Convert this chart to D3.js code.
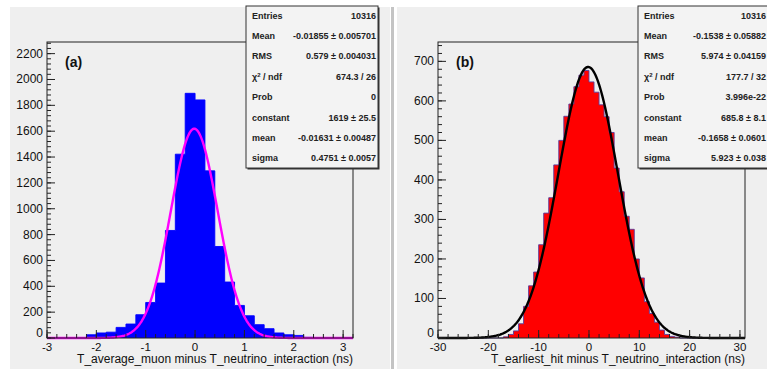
<!DOCTYPE html>
<html>
<head>
<meta charset="utf-8">
<script src="https://cdn.jsdelivr.net/npm/d3@7"></script>
<style>
  body { margin: 0; background: #fff; }
  svg { display: block; font-family: "Liberation Sans", Arial, sans-serif; }
</style>
</head>
<body>
<svg id="chart" width="767" height="369"></svg>
<script>
// panel (a): T_average_muon - T_neutrino_interaction, bins of 0.2 ns from -3
const binStartA = -3;
const binWidthA = 0.2;
const countsA = [0, 1, 2, 4, 25, 39, 45, 82, 108, 180, 275, 425, 832, 1422, 1893,
  1842, 1293, 708, 433, 252, 172, 103, 72, 39, 25, 20, 5, 3, 2, 1, 0];
const fitA = { constant: 1619, mean: -0.01631, sigma: 0.4751 };
const statLabelsA = ["Entries", "Mean", "RMS", "chi2", "Prob", "constant", "mean", "sigma"];
const statValuesA = ["10316", "-0.01855 \u00b1 0.005701", "0.579 \u00b1 0.004031", "674.3 / 26",
  "0", "1619 \u00b1 25.5", "-0.01631 \u00b1 0.00487", "0.4751 \u00b1 0.0057"];

// panel (b): T_earliest_hit - T_neutrino_interaction, bins of 1 ns from -30
const binStartB = -30;
const binWidthB = 1;
const countsB = [0, 0, 0, 0, 0, 0, 0, 0, 0, 0, 0, 0, 0, 3, 9, 18, 36, 80, 132, 167,
  236, 316, 355, 438, 500, 561, 592, 636, 665, 677, 648, 622, 590, 560, 520, 430,
  370, 308, 275, 200, 152, 92, 62, 40, 20, 9, 4, 2, 0, 0, 0, 0, 0, 0, 0, 0, 0, 0, 0, 0, 0];
const fitB = { constant: 685.8, mean: -0.1658, sigma: 5.923 };
const statLabelsB = statLabelsA;
const statValuesB = ["10316", "-0.1538 \u00b1 0.05882", "5.974 \u00b1 0.04159", "177.7 / 32",
  "3.996e-22", "685.8 \u00b1 8.1", "-0.1658 \u00b1 0.0601", "5.923 \u00b1 0.038"];

const svg = d3.select("#chart");

// pad backgrounds
svg.append("rect").attr("x", 10).attr("y", 7).attr("width", 380).attr("height", 362).attr("fill", "#efefef");
svg.append("rect").attr("x", 397).attr("y", 7).attr("width", 370).attr("height", 362).attr("fill", "#efefef");
svg.append("rect").attr("x", 391).attr("y", 7).attr("width", 3).attr("height", 362).attr("fill", "#c4c4c4");

const panels = [
  {
    frame: { x0: 47, x1: 353, y0: 42, y1: 338 },
    xDomain: [-3, 3.2], yMax: 2290,
    counts: countsA, lo: binStartA, w: binWidthA,
    fill: "#0000ff", stroke: "#0000ff", fitColor: "#ff00ff", fit: fitA,
    xMajor: d3.range(-3, 3.01, 1), xMinor: 0.2,
    yMajor: d3.range(0, 2201, 200), yMinor: 40,
    title: "T_average_muon minus T_neutrino_interaction (ns)", tag: "(a)",
    box: { x: 246, w: 132, labelX: 252, valueX: 376 },
    labels: statLabelsA, values: statValuesA
  },
  {
    frame: { x0: 438, x1: 745, y0: 42, y1: 338 },
    xDomain: [-30, 31], yMax: 749,
    counts: countsB, lo: binStartB, w: binWidthB,
    fill: "#ff0000", stroke: "#5a3c9c", fitColor: "#000000", fit: fitB,
    xMajor: d3.range(-30, 30.1, 10), xMinor: 2,
    yMajor: d3.range(0, 701, 100), yMinor: 20,
    title: "T_earliest_hit minus T_neutrino_interaction (ns)", tag: "(b)",
    box: { x: 638, w: 136, labelX: 644, valueX: 766 },
    labels: statLabelsB, values: statValuesB
  }
];

panels.forEach(drawPanel);

function drawPanel(p) {
  const f = p.frame;
  const x = d3.scaleLinear().domain(p.xDomain).range([f.x0, f.x1]);
  const y = d3.scaleLinear().domain([0, p.yMax]).range([f.y1, f.y0]);
  const g = svg.append("g");

  const bins = p.counts.map((c, i) => ({ x0: p.lo + i * p.w, c: c }));
  const pts = bins.map((b) => [b.x0, b.c]);
  pts.push([p.xDomain[1], bins[bins.length - 1].c]);

  // filled histogram as one step area (no seams between bins)
  g.append("path")
    .attr("d", d3.area().x((d) => x(d[0])).y0(y(0)).y1((d) => y(d[1])).curve(d3.curveStepAfter)(pts))
    .attr("fill", p.fill);

  // step outline
  g.append("path")
    .attr("d", d3.line().x((d) => x(d[0])).y((d) => y(d[1])).curve(d3.curveStepAfter)(pts))
    .attr("fill", "none")
    .attr("stroke", p.stroke)
    .attr("stroke-width", 0.9);

  // gaussian fit
  const fx = d3.range(p.xDomain[0], p.xDomain[1] + 1e-9, (p.xDomain[1] - p.xDomain[0]) / 400);
  const gauss = (v) => p.fit.constant * Math.exp(-0.5 * Math.pow((v - p.fit.mean) / p.fit.sigma, 2));
  g.append("path")
    .attr("d", d3.line().x((v) => x(v)).y((v) => y(gauss(v)))(fx))
    .attr("fill", "none")
    .attr("stroke", p.fitColor)
    .attr("stroke-width", 2.4);

  // frame
  g.append("rect")
    .attr("x", f.x0).attr("y", f.y0)
    .attr("width", f.x1 - f.x0).attr("height", f.y1 - f.y0)
    .attr("fill", "none").attr("stroke", "#222").attr("stroke-width", 1);

  // y axis ticks
  const yMinorVals = d3.range(0, p.yMax, p.yMinor);
  g.selectAll(".ymin").data(yMinorVals).join("line")
    .attr("x1", f.x0).attr("x2", f.x0 + 4)
    .attr("y1", (v) => y(v)).attr("y2", (v) => y(v))
    .attr("stroke", "#222").attr("stroke-width", 1);
  g.selectAll(".ymaj").data(p.yMajor).join("line")
    .attr("x1", f.x0).attr("x2", f.x0 + 8)
    .attr("y1", (v) => y(v)).attr("y2", (v) => y(v))
    .attr("stroke", "#222").attr("stroke-width", 1);
  g.selectAll(".ylab").data(p.yMajor).join("text")
    .attr("x", f.x0 - 4).attr("y", (v) => y(v) + (v === 0 ? -1 : 4))
    .attr("text-anchor", "end").attr("font-size", 12).attr("fill", "#111")
    .text((v) => v);

  // x axis ticks
  const xMinorVals = d3.range(p.xDomain[0], p.xDomain[1] + 1e-9, p.xMinor);
  g.selectAll(".xmin").data(xMinorVals).join("line")
    .attr("x1", (v) => x(v)).attr("x2", (v) => x(v))
    .attr("y1", f.y1).attr("y2", f.y1 - 4)
    .attr("stroke", "#222").attr("stroke-width", 1);
  g.selectAll(".xmaj").data(p.xMajor).join("line")
    .attr("x1", (v) => x(v)).attr("x2", (v) => x(v))
    .attr("y1", f.y1).attr("y2", f.y1 - 8)
    .attr("stroke", "#222").attr("stroke-width", 1);
  g.selectAll(".xlab").data(p.xMajor).join("text")
    .attr("x", (v) => x(v)).attr("y", 350.5)
    .attr("text-anchor", "middle").attr("font-size", 11.5).attr("fill", "#111")
    .text((v) => v);

  g.append("text")
    .attr("x", f.x1).attr("y", 363)
    .attr("text-anchor", "end").attr("font-size", 12).attr("fill", "#111")
    .text(p.title);

  g.append("text")
    .attr("x", f.x0 + 18).attr("y", 67)
    .attr("font-size", 14).attr("font-weight", "bold").attr("fill", "#111")
    .text(p.tag);

  // stats box with shadow
  const b = p.box;
  g.append("rect")
    .attr("x", b.x + 1.5).attr("y", 7.5).attr("width", b.w).attr("height", 162)
    .attr("fill", "#333");
  g.append("rect")
    .attr("x", b.x).attr("y", 6).attr("width", b.w).attr("height", 162)
    .attr("fill", "#f3f3f3").attr("stroke", "#333").attr("stroke-width", 1);

  const rowY = (i) => 18.5 + i * 20.4;
  p.labels.forEach((lab, i) => {
    const t = g.append("text")
      .attr("x", b.labelX).attr("y", rowY(i))
      .attr("font-size", 9).attr("font-weight", "bold").attr("fill", "#222");
    if (lab === "chi2") {
      t.append("tspan").text("\u03c7");
      t.append("tspan").attr("dy", -3).attr("font-size", 6).text("2");
      t.append("tspan").attr("dy", 3).text(" / ndf");
    } else {
      t.text(lab);
    }
    g.append("text")
      .attr("x", b.valueX).attr("y", rowY(i))
      .attr("text-anchor", "end")
      .attr("font-size", 9).attr("font-weight", "bold").attr("fill", "#222")
      .text(p.values[i]);
  });
}
</script>
</body>
</html>
